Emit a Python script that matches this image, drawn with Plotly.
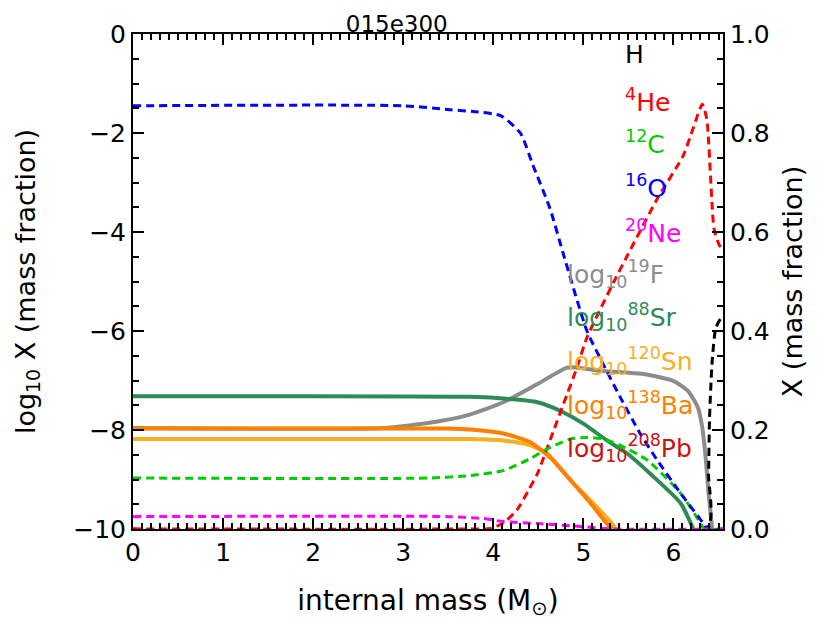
"""Abundance profile of model 015e300: mass fractions and log10 mass fractions vs internal mass."""

import plotly.graph_objects as go

# --- mass fractions (right axis, dashed) ---
mass_H = [0, 6.37, 6.39, 6.40, 6.43, 6.47, 6.52, 6.55]
X_H = [0, 0, 0.11, 0.22, 0.34, 0.406, 0.424, 0.43]

mass_He = [0, 3.7, 3.97, 4.11, 4.26, 4.39, 4.49, 4.56, 4.67, 4.78, 4.93, 5.04,
           5.34, 5.49, 5.82, 6.11, 6.22, 6.32, 6.37, 6.45, 6.50, 6.55]
X_He = [0, 0, 0.001, 0.012, 0.038, 0.078, 0.112, 0.145, 0.199, 0.253, 0.327, 0.387,
        0.50, 0.553, 0.667, 0.755, 0.81, 0.858, 0.828, 0.607, 0.577, 0.56]

mass_C = [0, 3.3, 3.74, 4.11, 4.41, 4.60, 4.86, 5.04, 5.22, 5.41, 5.71, 6.08, 6.30, 6.34, 6.55]
X_C = [0.103, 0.103, 0.108, 0.118, 0.142, 0.162, 0.182, 0.185, 0.182, 0.169, 0.139, 0.072,
       0.012, 0.0, 0.0]

mass_O = [0, 3.0, 3.52, 3.8, 4.08, 4.30, 4.44, 4.63, 4.78, 5.04, 5.22, 5.41, 5.63, 5.82,
          6.08, 6.33, 6.38, 6.55]
X_O = [0.855, 0.855, 0.847, 0.843, 0.835, 0.80, 0.735, 0.647, 0.554, 0.40, 0.333, 0.266,
       0.193, 0.139, 0.072, 0.012, 0.0, 0.0]

mass_Ne = [0, 3.5, 3.9, 4.11, 4.49, 4.97, 5.33, 6.55]
X_Ne = [0.025, 0.025, 0.021, 0.015, 0.011, 0.005, 0.0, 0.0]

# --- log10 mass fractions (left axis, solid) ---
mass_F = [0, 2.8, 3.19, 3.41, 3.72, 4.11, 4.49, 4.82, 4.93, 5.22, 5.49, 5.67, 6.0,
          6.16, 6.27, 6.32, 6.36, 6.39, 6.43]
logX_F = [-7.96, -7.96, -7.88, -7.82, -7.70, -7.44, -7.07, -6.74, -6.74, -6.81, -6.84,
          -6.87, -7.01, -7.21, -7.54, -7.95, -8.61, -9.28, -10.0]

mass_Sr = [0, 3.74, 4.22, 4.49, 4.74, 5.0, 5.26, 5.49, 5.74, 6.08, 6.22]
logX_Sr = [-7.32, -7.33, -7.38, -7.44, -7.61, -7.87, -8.21, -8.48, -8.88, -9.48, -10.0]

mass_Sn = [0, 3.74, 4.11, 4.41, 4.60, 4.86, 5.11, 5.33, 5.36]
logX_Sn = [-8.18, -8.18, -8.21, -8.31, -8.48, -9.02, -9.48, -9.92, -10.0]

mass_Ba = [0, 3.5, 3.74, 4.11, 4.41, 4.63, 4.86, 5.08, 5.26, 5.32]
logX_Ba = [-7.97, -7.97, -7.99, -8.07, -8.25, -8.55, -9.02, -9.48, -9.89, -10.0]

# label text, colour and vertical slot (top to bottom)
dash_labels = ["H", "<sup>4</sup>He", "<sup>12</sup>C", "<sup>16</sup>O", "<sup>20</sup>Ne"]
dash_colors = ["black", "#FF0000", "#00CC00", "#0000FF", "#FF00FF"]
log_labels = ["log<sub>10</sub><sup>19</sup>F", "log<sub>10</sub><sup>88</sup>Sr",
              "log<sub>10</sub><sup>120</sup>Sn", "log<sub>10</sub><sup>138</sup>Ba",
              "log<sub>10</sub><sup>208</sup>Pb"]
log_colors = ["#8C8C8C", "#2E8B57", "#F5B025", "#FF7F00", "#CC1111"]

FONT = "DejaVu Sans, Liberation Sans, Arial, sans-serif"
DASH = "8px,5px"

fig = go.Figure()

# solid log10 curves on the left axis
for m, v, c in [(mass_F, logX_F, log_colors[0]), (mass_Sr, logX_Sr, log_colors[1]),
                (mass_Sn, logX_Sn, log_colors[2]), (mass_Ba, logX_Ba, log_colors[3])]:
    fig.add_trace(go.Scatter(x=m, y=v, mode="lines", yaxis="y",
                             line=dict(color=c, width=4, shape="spline", smoothing=0.6),
                             hoverinfo="skip", showlegend=False))

# dashed mass-fraction curves on the right axis
for m, v, c in [(mass_H, X_H, dash_colors[0]), (mass_He, X_He, dash_colors[1]),
                (mass_C, X_C, dash_colors[2]), (mass_O, X_O, dash_colors[3]),
                (mass_Ne, X_Ne, dash_colors[4])]:
    fig.add_trace(go.Scatter(x=m, y=v, mode="lines", yaxis="y2",
                             line=dict(color=c, width=3, dash=DASH, shape="spline", smoothing=0.6),
                             hoverinfo="skip", showlegend=False))

# in-plot labels (pixel slots measured from the top of the plot area)
slot_y = [21, 67, 109, 153, 199, 241, 285, 329, 373, 417]
plot_h = 498
for i, (txt, col) in enumerate(zip(dash_labels + log_labels, dash_colors + log_colors)):
    fig.add_annotation(
        text=txt, xref="paper", yref="paper",
        x=0.83 if i < 5 else 0.732,
        y=1 - slot_y[i] / plot_h,
        xanchor="left", yanchor="middle", showarrow=False,
        font=dict(family=FONT, size=25, color=col),
    )

axis_common = dict(
    showline=True, linecolor="black", linewidth=2,
    ticks="inside", tickcolor="black", tickwidth=1.5, ticklen=11,
    showgrid=False, zeroline=False,
    tickfont=dict(family=FONT, size=25, color="black"),
)

# page body adds an 8px offset, so the figure is 8px smaller than the window
fig.update_layout(
    width=822, height=615,
    margin=dict(l=125, r=107, t=23, b=94),
    paper_bgcolor="white", plot_bgcolor="white",
    title=dict(text="015e300", x=0.447, xref="paper", y=0.974, yanchor="middle",
               xanchor="center", font=dict(family=FONT, size=23, color="black")),
    xaxis=dict(
        range=[0, 6.55], dtick=1, tick0=0, mirror="ticks",
        minor=dict(dtick=0.1, ticks="inside", ticklen=6, tickcolor="black", tickwidth=1.5),
        title=dict(text="internal mass (M<sub>⊙</sub>)", standoff=24,
                   font=dict(family=FONT, size=28, color="black")),
        **axis_common,
    ),
    yaxis=dict(
        range=[-10, 0], dtick=2, tick0=0,
        minor=dict(dtick=0.5, ticks="inside", ticklen=6, tickcolor="black", tickwidth=1.5),
        title=dict(text="log<sub>10</sub> X (mass fraction)", standoff=30,
                   font=dict(family=FONT, size=27, color="black")),
        **axis_common,
    ),
    yaxis2=dict(
        range=[0, 1], dtick=0.2, tick0=0, tickformat=".1f",
        overlaying="y", side="right",
        minor=dict(dtick=0.05, ticks="inside", ticklen=6, tickcolor="black", tickwidth=1.5),
        title=dict(text="X (mass fraction)", standoff=14,
                   font=dict(family=FONT, size=27, color="black")),
        **axis_common,
    ),
)

fig.write_html("out.html")
